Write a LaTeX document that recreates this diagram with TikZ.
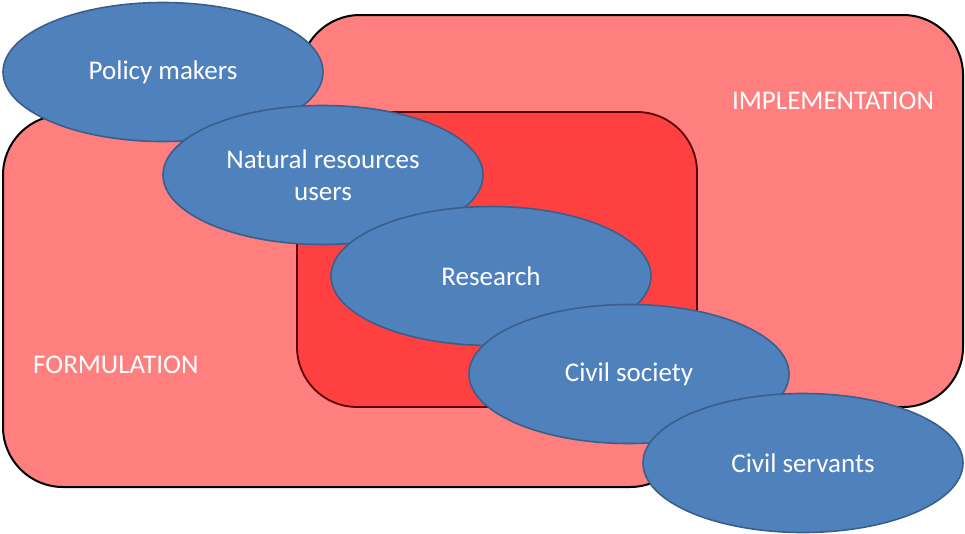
\documentclass[tikz,border=0pt]{standalone}
\usepackage{fontspec}
\setmainfont{Carlito}
\usetikzlibrary{shapes.geometric}
\definecolor{stagefill}{HTML}{FF7F7F}
\definecolor{corefill}{HTML}{FF4040}
\definecolor{coreline}{HTML}{5A0000}
\definecolor{actorfill}{HTML}{4F81BD}
\definecolor{actorline}{HTML}{3A5F8B}
\tikzset{
  stagebox/.style={rectangle, rounded corners=60pt, fill=stagefill, draw=black, line width=2pt, inner sep=0pt},
  corebox/.style={rectangle, rounded corners=60pt, fill=corefill, draw=coreline, line width=1.8pt, inner sep=0pt},
  actor/.style={ellipse, fill=actorfill, draw=actorline, line width=1.6pt, inner sep=0pt,
    minimum width=320pt, minimum height=139pt, text=white, align=center,
    font=\fontsize{27}{32}\selectfont},
  stagelabel/.style={text=white, inner sep=0pt, font=\fontsize{27}{32}\selectfont}
}
\begin{document}
\begin{tikzpicture}[x=1pt, y=-1pt]
  \useasboundingbox (0,0) rectangle (965,533);
  % policy stages
  \node[stagebox, minimum width=663pt, minimum height=392pt] (impl) at (631.5,211) {};
  \node[stagebox, minimum width=687pt, minimum height=372pt] (form) at (346.5,301) {};
  \node[corebox, minimum width=400pt, minimum height=295pt] (core) at (497,259.5) {};
  \node[stagelabel] (impllabel) at (833,101) {IMPLEMENTATION};
  \node[stagelabel, anchor=west] (formlabel) at (33,365) {FORMULATION};
  % actors
  \node[actor] (policy) at (163,72) {Policy makers};
  \node[actor] (users) at (323,175) {Natural resources\\users};
  \node[actor] (research) at (491,276) {Research};
  \node[actor] (society) at (629,374) {Civil society};
  \node[actor] (servants) at (803,463) {Civil servants};
\end{tikzpicture}
\end{document}
